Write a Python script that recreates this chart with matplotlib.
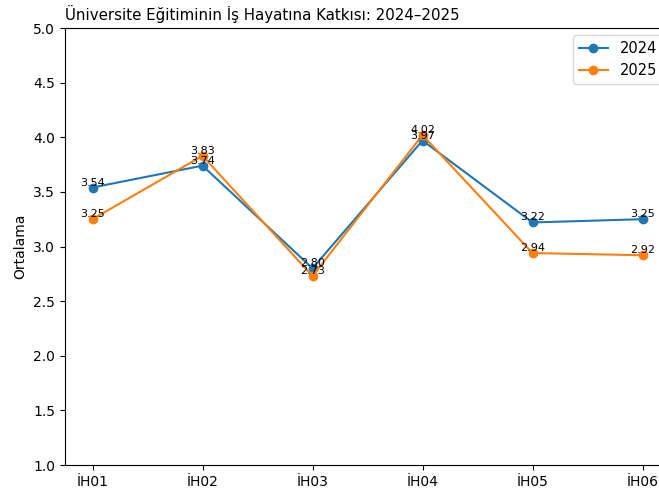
import matplotlib
matplotlib.use("Agg")
import matplotlib.pyplot as plt

codes = ["İH01", "İH02", "İH03", "İH04", "İH05", "İH06"]
mean_2024 = [3.54, 3.74, 2.80, 3.97, 3.22, 3.25]
mean_2025 = [3.25, 3.83, 2.73, 4.02, 2.94, 2.92]

fig = plt.figure(figsize=(6.59, 4.94), dpi=100)
ax = fig.add_axes([65 / 659, 29 / 494, 605 / 659, 437 / 494])

x = list(range(len(codes)))
for vals, lab in [(mean_2024, "2024"), (mean_2025, "2025")]:
    ax.plot(x, vals, marker="o", label=lab)
    for xi, v in zip(x, vals):
        ax.text(xi, v, f"{v:.2f}", ha="center", va="bottom", fontsize=8)

ax.set_xticks(x)
ax.set_xticklabels(codes)
ax.set_ylim(1.0, 5.0)
ax.set_ylabel("Ortalama")
ax.set_title("Üniversite Eğitiminin İş Hayatına Katkısı: 2024–2025", loc="left", fontsize=10.8)
ax.legend(loc="upper right", fontsize=10.5)

fig.savefig("out.png", dpi=100)
